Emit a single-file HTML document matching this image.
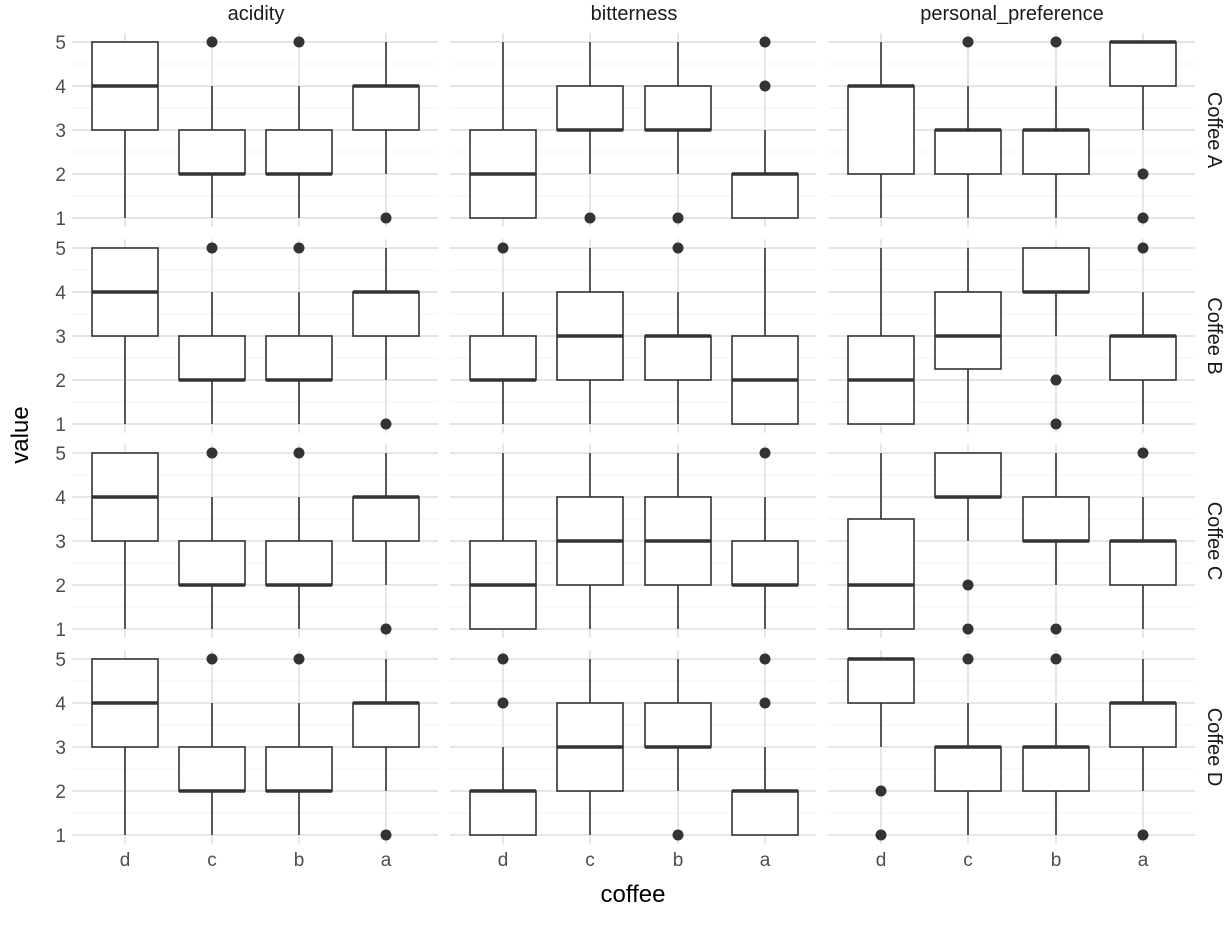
<!DOCTYPE html>
<html><head><meta charset="utf-8"><style>
html,body{margin:0;padding:0;background:#fff;}
svg text{font-family:"Liberation Sans","DejaVu Sans",sans-serif;}
</style></head><body>
<svg id="s" width="1228" height="921" viewBox="0 0 1228 921" xmlns="http://www.w3.org/2000/svg">
<g id="grid"></g>
<g id="boxes"></g>
<g font-size="20" fill="#1a1a1a" text-anchor="middle">
<text x="256" y="20">acidity</text>
<text x="634" y="20">bitterness</text>
<text x="1012" y="20">personal_preference</text>
</g>
<g font-size="20" fill="#1a1a1a" text-anchor="middle">
<text transform="translate(1208,130) rotate(90)">Coffee A</text>
<text transform="translate(1208,336) rotate(90)">Coffee B</text>
<text transform="translate(1208,541) rotate(90)">Coffee C</text>
<text transform="translate(1208,747) rotate(90)">Coffee D</text>
</g>
<g font-size="19" fill="#4d4d4d" text-anchor="end">
<text x="66" y="49">5</text><text x="66" y="93">4</text><text x="66" y="137">3</text><text x="66" y="181">2</text><text x="66" y="225">1</text>
<text x="66" y="255">5</text><text x="66" y="299">4</text><text x="66" y="343">3</text><text x="66" y="387">2</text><text x="66" y="431">1</text>
<text x="66" y="460">5</text><text x="66" y="504">4</text><text x="66" y="548">3</text><text x="66" y="592">2</text><text x="66" y="636">1</text>
<text x="66" y="666">5</text><text x="66" y="710">4</text><text x="66" y="754">3</text><text x="66" y="798">2</text><text x="66" y="842">1</text>
</g>
<g font-size="19" fill="#4d4d4d" text-anchor="middle">
<text x="125" y="866">d</text><text x="212" y="866">c</text><text x="299" y="866">b</text><text x="386" y="866">a</text>
<text x="503" y="866">d</text><text x="590" y="866">c</text><text x="678" y="866">b</text><text x="765" y="866">a</text>
<text x="881" y="866">d</text><text x="968" y="866">c</text><text x="1056" y="866">b</text><text x="1143" y="866">a</text>
</g>
<text x="633" y="902" font-size="24" fill="#000" text-anchor="middle">coffee</text>
<text transform="translate(28,435) rotate(-90)" font-size="24" fill="#000" text-anchor="middle">value</text>
</svg>
<script>
var NS="http://www.w3.org/2000/svg";
function el(p,t,a){var e=document.createElementNS(NS,t);for(var k in a)e.setAttribute(k,a[k]);p.appendChild(e);return e;}
var grid=document.getElementById('grid'),bx=document.getElementById('boxes');
var colX=[[125,212,299,386],[503,590,678,765],[881,968,1056,1143]];
var colR=[[72,438],[450,816],[828,1195]];
var top5=[42,248,453,659];
function Y(v,r){return top5[r]+(5-v)*44;}
var acid=[[3,4,5,1,5,[]],[2,2,3,1,4,[5]],[2,2,3,1,4,[5]],[3,4,4,2,5,[1]]];
var D=[
[acid,
 [[1,2,3,1,5,[]],[3,3,4,2,5,[1]],[3,3,4,2,5,[1]],[1,2,2,1,3,[4,5]]],
 [[2,4,4,1,5,[]],[2,3,3,1,4,[5]],[2,3,3,1,4,[5]],[4,5,5,3,5,[2,1]]]],
[acid,
 [[2,2,3,1,4,[5]],[2,3,4,1,5,[]],[2,3,3,1,4,[5]],[1,2,3,1,5,[]]],
 [[1,2,3,1,5,[]],[2.25,3,4,1,5,[]],[4,4,5,3,5,[2,1]],[2,3,3,1,4,[5]]]],
[acid,
 [[1,2,3,1,5,[]],[2,3,4,1,5,[]],[2,3,4,1,5,[]],[2,2,3,1,4,[5]]],
 [[1,2,3.5,1,5,[]],[4,4,5,3,5,[2,1]],[3,3,4,2,5,[1]],[2,3,3,1,4,[5]]]],
[acid,
 [[1,2,2,1,3,[4,5]],[2,3,4,1,5,[]],[3,3,4,2,5,[1]],[1,2,2,1,3,[4,5]]],
 [[4,5,5,3,5,[2,1]],[2,3,3,1,4,[5]],[2,3,3,1,4,[5]],[3,4,4,2,5,[1]]]]
];
for(var r=0;r<4;r++)for(var c=0;c<3;c++){
 var x0=colR[c][0],x1=colR[c][1],yt=Y(5.2,r),yb=Y(0.8,r);
 for(var v=1;v<=4;v++){var y=Y(v+0.5,r);el(grid,'line',{x1:x0,x2:x1,y1:y,y2:y,stroke:'#f3f3f3','stroke-width':1});}
 for(var v=1;v<=5;v++){var y=Y(v,r);el(grid,'line',{x1:x0,x2:x1,y1:y,y2:y,stroke:'#e6e6e6','stroke-width':2});}
 for(var i=0;i<4;i++){var x=colX[c][i];el(grid,'line',{x1:x,x2:x,y1:yt,y2:yb,stroke:'#e6e6e6','stroke-width':2});}
 for(var i=0;i<4;i++){
  var d=D[r][c][i],x=colX[c][i];
  el(bx,'line',{x1:x,x2:x,y1:Y(d[4],r),y2:Y(d[2],r),stroke:'#333','stroke-width':1.6});
  el(bx,'line',{x1:x,x2:x,y1:Y(d[0],r),y2:Y(d[3],r),stroke:'#333','stroke-width':1.6});
  el(bx,'rect',{x:x-33,y:Y(d[2],r),width:66,height:Y(d[0],r)-Y(d[2],r),fill:'#fff',stroke:'#333','stroke-width':1.6});
  el(bx,'line',{x1:x-33,x2:x+33,y1:Y(d[1],r),y2:Y(d[1],r),stroke:'#333','stroke-width':3.5});
  d[5].forEach(function(o){el(bx,'circle',{cx:x,cy:Y(o,r),r:5.5,fill:'#333'});});
 }
}
</script>
</body></html>
